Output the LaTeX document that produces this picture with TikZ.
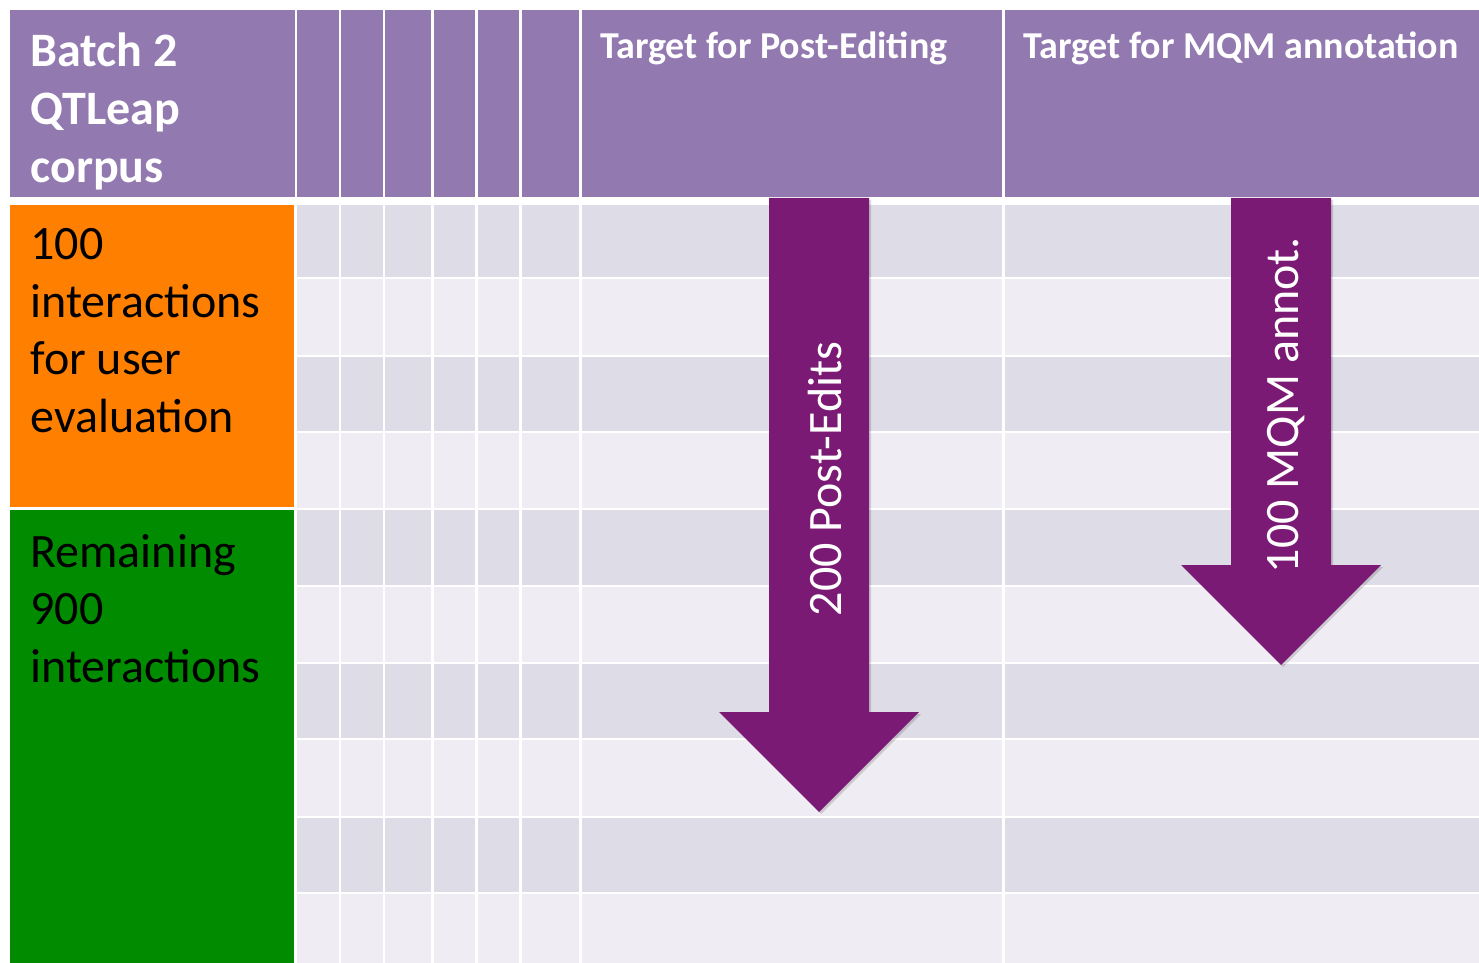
\documentclass[tikz,border=0pt]{standalone}
\usepackage{fontspec}
\setmainfont{Carlito}
\definecolor{hdr}{RGB}{146,121,176}
\definecolor{rowdark}{RGB}{222,220,230}
\definecolor{rowlight}{RGB}{239,237,243}
\definecolor{orangecell}{RGB}{255,127,0}
\definecolor{greencell}{RGB}{0,139,0}
\definecolor{arrowfill}{RGB}{123,26,116}
\tikzset{
  hdrtext/.style={anchor=north west, inner sep=0pt, align=left, text=white,
    font=\fontsize{24pt}{29pt}\selectfont\bfseries},
  coltext/.style={anchor=north west, inner sep=0pt, text=white,
    font=\fontsize{19pt}{23pt}\selectfont\bfseries},
  celltext/.style={anchor=north west, inner sep=0pt, align=left, text=black,
    font=\fontsize{24pt}{28.75pt}\selectfont},
  arrowtext/.style={inner sep=0pt, text=white, rotate=90,
    font=\fontsize{24pt}{28pt}\selectfont},
  arrowbody/.style={fill=arrowfill},
  arrowshadow/.style={fill=black, opacity=0.15}
}
% block arrow: centre x, top y, neck y, tip y
\newcommand\downblock[5]{%
  \fill[#5] (#1-50,#2) -- (#1+50,#2) -- (#1+50,#3) -- (#1+100,#3)
    -- (#1,#4) -- (#1-100,#3) -- (#1-50,#3) -- cycle;}
\begin{document}
\begin{tikzpicture}[x=0.5pt,y=-0.5pt]
\useasboundingbox (0,0) rectangle (1479,963);
\fill[white] (0,0) rectangle (1479,963);

% header band
\foreach \a/\b in {10/295,297/339,341/383,385/431,434/475,478/519,522/579,582/1002,1005/1479}
  \fill[hdr] (\a,10) rectangle (\b,197);

% striped body grid
\foreach \t/\bt/\c in {205/277/rowdark,279/355/rowlight,357/431/rowdark,433/508/rowlight,
    510/585/rowdark,587/662/rowlight,664/738/rowdark,740/816/rowlight,818/892/rowdark,894/963/rowlight}
  \foreach \a/\b in {297/339,341/383,385/431,434/475,478/519,522/579,582/1002,1005/1479}
    \fill[\c] (\a,\t) rectangle (\b,\bt);

% first column cells
\fill[orangecell] (10,205) rectangle (294,507);
\fill[greencell] (10,510) rectangle (294,963);

% texts
\node[hdrtext] (batch) at (30,32) {Batch 2\\QTLeap\\corpus};
\node[coltext] (pe) at (600,31) {Target for Post-Editing};
\node[coltext] (mqm) at (1023,31) {Target for MQM annotation};
\node[celltext] (user) at (30,228) {100\\interactions\\for user\\evaluation};
\node[celltext] (rest) at (30,534) {Remaining\\900\\interactions};

% arrows
\downblock{821}{200}{714}{814}{arrowshadow}
\downblock{819}{198}{712}{812}{arrowbody}
\downblock{1283}{200}{567}{667}{arrowshadow}
\downblock{1281}{198}{565}{665}{arrowbody}
\node[arrowtext] (pecount) at (825,479) {200 Post-Edits};
\node[arrowtext] (mqmcount) at (1286,405) {100 MQM annot.};
\end{tikzpicture}
\end{document}
